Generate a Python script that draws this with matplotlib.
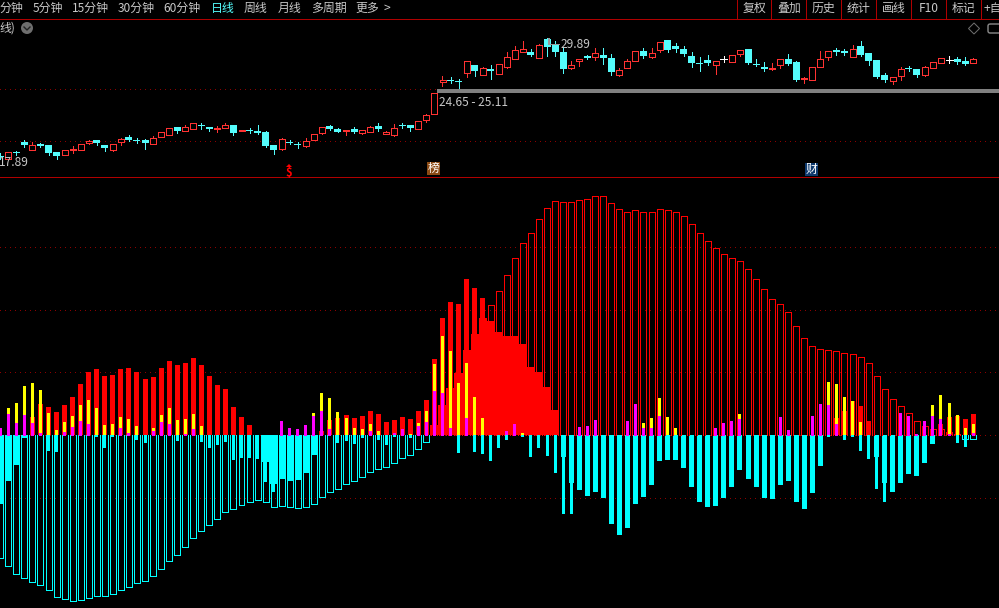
import matplotlib
matplotlib.use('Agg')
import numpy as np
import matplotlib.pyplot as plt
from matplotlib.patches import Circle, FancyBboxPatch, Polygon, Rectangle

plt.rcParams['font.family'] = ['Noto Sans CJK SC', 'DejaVu Sans']

RED = '#ff3232'
BAR_RED = '#ff0000'
CYAN = '#54fcfc'
BAR_CYAN = '#00ffff'
LINE_RED = '#b00000'
GRID_RED = '#8c0000'
TEXT = '#c8c8c8'

# candles, one row per ten days
opens = [18.1, 17.8, 18.5, 19.5, 18.7, 19.3, 19.2, 18.5, 18.2, 18.7,
         18.7, 19.4, 19.7, 19.2, 18.7, 19.5, 20.0, 19.7, 19.7, 19.3,
         20.0, 20.2, 21.0, 20.6, 20.8, 21.2, 21.0, 20.8, 20.9, 21.2,
         20.6, 20.7, 20.6, 20.5, 19.2, 18.8, 19.5, 19.3, 19.1, 19.7,
         20.4, 21.1, 20.8, 20.6, 20.8, 20.4, 20.5, 21.1, 20.3, 20.2,
         21.2, 21.2, 20.8, 21.7, 22.3, 25.5, 25.7, 25.6, 26.4, 27.2,
         26.2, 26.8, 26.3, 27.0, 27.8, 28.5, 28.5, 27.9, 29.8, 29.2,
         28.5, 26.9, 27.6, 28.1, 28.0, 28.2, 27.9, 26.2, 26.9, 27.6,
         28.6, 28.0, 28.7, 29.7, 29.1, 28.8, 28.1, 27.4, 27.7, 27.2,
         27.8, 27.5, 28.3, 28.8, 27.3, 27.0, 26.8, 27.2, 27.8, 27.5,
         25.8, 25.7, 27.0, 28.0, 28.7, 28.6, 28.0, 29.1, 28.4, 27.7,
         26.2, 25.6, 26.1, 26.9, 26.8, 26.2, 26.9, 27.4, 27.7, 27.8,
         27.6, 27.4]
highs = [18.4, 18.5, 18.6, 19.7, 19.5, 19.4, 19.2, 18.5, 18.7, 19.1,
         19.3, 19.7, 19.7, 19.2, 19.3, 19.9, 20.2, 19.9, 19.8, 20.1,
         20.5, 20.9, 21.0, 21.2, 21.4, 21.4, 21.0, 21.1, 21.4, 21.2,
         20.7, 20.9, 21.2, 20.6, 19.2, 19.9, 19.7, 19.5, 19.9, 20.3,
         21.0, 21.2, 20.9, 20.7, 21.0, 20.7, 21.1, 21.4, 20.6, 21.3,
         21.4, 21.2, 21.6, 22.3, 24.4, 26.1, 26.0, 25.8, 27.6, 27.2,
         27.0, 27.2, 27.3, 28.5, 29.1, 29.6, 28.8, 29.3, 29.9, 29.6,
         29.0, 27.6, 27.8, 28.2, 28.9, 28.9, 28.3, 26.9, 27.8, 28.6,
         28.9, 28.9, 29.5, 29.7, 29.4, 29.1, 28.5, 28.0, 28.2, 27.6,
         28.1, 28.2, 28.7, 28.8, 27.8, 27.5, 27.4, 27.8, 28.3, 27.6,
         26.0, 27.0, 28.6, 28.6, 28.9, 28.8, 29.2, 29.6, 28.4, 27.7,
         26.4, 26.0, 27.0, 27.1, 26.8, 27.1, 27.5, 27.9, 28.1, 28.0,
         28.0, 27.9]
lows = [17.8, 17.8, 18.2, 19.0, 18.7, 19.0, 18.2, 17.8, 18.2, 18.4,
        18.7, 19.3, 19.2, 18.6, 18.6, 19.2, 19.6, 19.4, 18.8, 19.3,
        20.0, 20.2, 20.4, 20.6, 20.8, 20.8, 20.6, 20.5, 20.9, 20.2,
        20.6, 20.4, 20.3, 19.0, 18.3, 18.7, 19.3, 18.9, 19.0, 19.7,
        20.3, 20.7, 20.5, 20.2, 20.4, 20.3, 20.5, 20.6, 20.3, 20.1,
        20.9, 20.6, 20.8, 21.5, 22.3, 25.1, 25.4, 24.9, 26.0, 26.1,
        26.2, 25.8, 26.3, 26.9, 27.8, 28.5, 28.1, 27.9, 28.1, 28.1,
        26.4, 26.8, 27.1, 27.8, 27.7, 27.3, 26.2, 26.1, 26.9, 27.6,
        27.9, 27.9, 28.5, 28.5, 28.5, 28.1, 27.0, 26.6, 27.2, 26.3,
        27.5, 27.5, 28.1, 27.3, 27.1, 26.6, 26.7, 26.9, 27.2, 25.6,
        25.4, 25.7, 27.0, 27.7, 28.2, 28.2, 28.0, 28.1, 27.2, 25.9,
        25.5, 25.3, 25.7, 26.6, 26.0, 26.1, 26.9, 27.4, 27.4, 27.3,
        27.2, 27.4]
closes = [18.0, 18.5, 18.4, 19.2, 19.2, 19.1, 18.4, 18.1, 18.7, 18.8,
          19.3, 19.6, 19.4, 18.9, 19.3, 19.8, 19.7, 19.6, 19.4, 19.9,
          20.5, 20.9, 20.6, 21.0, 21.4, 21.1, 20.8, 20.9, 21.2, 20.4,
          20.7, 20.6, 20.4, 19.1, 18.7, 19.8, 19.4, 19.2, 19.6, 20.3,
          21.0, 20.8, 20.5, 20.7, 20.5, 20.7, 21.0, 20.8, 20.5, 20.9,
          21.1, 20.9, 21.6, 22.2, 24.4, 25.7, 25.6, 25.5, 27.6, 26.6,
          26.9, 26.6, 27.3, 28.0, 28.7, 28.8, 28.2, 29.2, 29.0, 28.5,
          26.8, 27.2, 27.8, 27.9, 28.4, 27.9, 26.5, 26.7, 27.6, 28.6,
          28.1, 28.4, 29.5, 28.7, 28.8, 28.3, 27.4, 27.3, 27.4, 27.6,
          27.8, 28.2, 28.7, 27.4, 27.2, 26.8, 26.9, 27.8, 27.3, 25.7,
          25.9, 27.0, 27.8, 28.6, 28.5, 28.4, 28.8, 28.2, 27.6, 26.0,
          25.7, 26.0, 26.8, 26.8, 26.2, 27.0, 27.5, 27.9, 27.7, 27.5,
          27.3, 27.8]

# indicator heights
outline = [-123, -131, -139, -143, -147, -150, -155, -162, -164, -166,
           -165, -163, -161, -161, -159, -155, -152, -148, -146, -141,
           -134, -126, -120, -112, -103, -96, -90, -84, -77, -74,
           -70, -67, -65, -67, -72, -71, -72, -73, -72, -69,
           -62, -57, -54, -49, -46, -42, -37, -34, -32, -28,
           -23, -20, -14, -7, 10, 30, 47, 62, 85, 101,
           117, 130, 144, 160, 177, 192, 202, 216, 227, 234,
           233, 233, 235, 236, 239, 239, 232, 226, 223, 225,
           223, 223, 226, 225, 223, 219, 211, 202, 194, 187,
           181, 177, 174, 166, 156, 146, 136, 131, 123, 109,
           97, 89, 86, 85, 84, 82, 81, 78, 72, 59,
           46, 36, 29, 22, 14, 9, 6, 6, 3, 1,
           -4, -4]
fill = [-69, -46, -30, -3, 0, 0, 0, 0, 0, 0,
        0, 0, 0, 0, 0, 0, 0, 0, 0, 0,
        0, 0, 0, 0, 0, 0, 0, 0, 0, 0,
        0, 0, 0, -27, -49, -44, -46, -45, -38, -20,
        0, 0, 0, 0, 0, 0, 0, 0, 0, 0,
        0, 0, 0, 0, 10, 30, 47, 62, 85, 101,
        117, 114, 103, 99, 99, 91, 68, 63, 48, 25,
        0, 0, 0, 0, 0, 0, 0, 0, 0, 0,
        0, 0, 0, 0, 0, 0, 0, 0, 0, 0,
        0, 0, 0, 0, 0, 0, 0, 0, 0, 0,
        0, 0, 0, 0, 0, 0, 0, 0, 0, 0,
        0, 0, 0, 0, 0, 0, 0, 0, 0, 0,
        0, 0]
mid = [0, 0, 0, 0, 18, 31, 28, 23, 30, 38,
       51, 63, 66, 59, 60, 66, 67, 63, 56, 58,
       67, 74, 70, 72, 77, 70, 59, 50, 46, 28,
       18, 10, 0, 0, 0, 0, 0, 0, 0, 0,
       4, 15, 17, 20, 17, 19, 24, 21, 13, 15,
       18, 16, 24, 35, 76, 117, 133, 131, 156, 147,
       137, 0, 0, 0, 0, 0, 0, 0, 0, 0,
       -22, -48, -55, -61, -57, -63, -89, -100, -93, -69,
       -62, -50, -26, -25, -25, -33, -52, -67, -72, -71,
       -63, -52, -35, -44, -52, -63, -64, -50, -46, -67,
       -74, -58, -31, 0, 17, 24, 34, 29, 14, -22,
       -48, -57, -48, -39, -41, -28, -9, 11, 18, 19,
       16, 21]
yellow = [0, 27, 32, 49, 52, 45, 22, 5, 13, 19,
          30, 35, 27, 10, 11, 18, 16, 9, 0, 7,
          20, 27, 15, 16, 21, 9, 0, 0, 0, 0,
          0, 0, 0, 0, 0, 0, 0, 0, 0, 22,
          42, 37, 23, 17, 7, 6, 11, 4, 0, 0,
          0, 1, 12, 24, 71, 99, 84, 52, 72, 38,
          17, 0, 0, 0, 0, 2, 0, 0, 0, 0,
          0, 0, 0, 0, 0, 0, 0, 0, 0, 0,
          12, 17, 37, 18, 7, 0, 0, 0, 0, 0,
          0, 0, 21, 0, 0, 0, 0, 0, 0, 0,
          0, 0, 0, 53, 51, 38, 34, 13, 0, 0,
          0, 0, 0, 0, 0, 0, 30, 40, 32, 20,
          7, 11]
magenta = [7, 21, 12, 20, 12, 2, 0, 0, 3, 8,
           14, 11, 0, 0, 0, 7, 2, 0, 0, 4,
           13, 11, 0, 1, 6, 0, 0, 0, 0, 0,
           0, 0, 0, 0, 0, 14, 7, 6, 10, 19,
           24, 6, 0, 0, 0, 0, 4, 0, 0, 2,
           6, 0, 9, 13, 44, 42, 7, 0, 17, 0,
           0, 0, 0, 4, 11, 0, 0, 0, 0, 0,
           0, 0, 8, 9, 15, 0, 0, 0, 14, 31,
           7, 7, 19, 0, 0, 0, 0, 0, 0, 7,
           12, 14, 16, 0, 0, 0, 0, 18, 5, 0,
           0, 19, 31, 30, 11, 0, 0, 0, 0, 0,
           0, 0, 22, 19, 1, 14, 19, 16, 1, 0,
           0, 2]
thin_cyan = [0, 0, 0, 0, 0, 0, -16, -17, 0, 0,
             0, 0, -2, -13, -2, 0, 0, -5, -8, 0,
             0, 0, -6, 0, 0, -7, -13, -10, -7, -25,
             -23, -23, -24, -47, -57, 0, 0, 0, 0, 0,
             0, 0, -8, -6, -9, -3, 0, -5, -10, -2,
             0, -3, 0, 0, 0, 0, 0, -18, 0, -17,
             -19, -26, -13, -5, 0, -2, -22, -13, -21, -38,
             -79, -79, 0, 0, 0, 0, 0, 0, 0, 0,
             0, 0, 0, 0, 0, 0, 0, 0, 0, 0,
             0, 0, 0, 0, 0, 0, 0, 0, 0, 0,
             0, 0, 0, -2, 0, -5, -2, -16, -24, -54,
             -67, 0, 0, 0, 0, 0, 0, 0, 0, -8,
             -12, 0]

left_tabs = ['分钟', '5分钟', '15分钟', '30分钟', '60分钟', '日线', '周线', '月线', '多周期', '更多']
left_tab_x = [0, 33, 72, 118, 163, 211, 244, 278, 311, 355]
right_tabs = ['复权', '叠加', '历史', '统计', '画线', 'F10', '标记', '+自']
right_tab_x = [743, 777, 812, 847, 882, 919, 952, 984]
separators = [737, 771, 806, 841, 876, 911, 946, 981]
price_grid = [24.8, 19.65]
grid_levels = [188.1, 125.4, 62.7, 0, -62.7]
gap_low, gap_high = 24.65, 25.11

W, H = 999, 608
PX = 1 / 8.04  # one pixel in day units
xs = np.arange(len(opens))
x_lim = (-0.3 * PX, (W - 0.3) * PX)
DOTS = (0, (0.6, 4.95))

fig = plt.figure(figsize=(W / 100, H / 100), dpi=100, facecolor='black')


def pane(top, bottom):
    ax = fig.add_axes([0, 1 - bottom / H, 1, (bottom - top) / H])
    ax.set_facecolor('black')
    ax.set_xlim(*x_lim)
    ax.axis('off')
    return ax


# candle pane
ax1 = pane(19, 177)
ax1.set_ylim(16.0, 31.8)
for y in price_grid:
    ax1.axhline(y, color=GRID_RED, lw=0.72, ls=DOTS, antialiased=False, zorder=0)
ax1.axhspan(gap_low - 0.2, gap_high - 0.35, xmin=437 / W, color='#808080', lw=0, zorder=1)

for i in xs:
    o, h, l, c = opens[i], highs[i], lows[i], closes[i]
    if c > o:
        col = RED
    elif c < o:
        col = CYAN
    else:
        col = 'white'
    ax1.vlines(i, l, h, color=col, lw=0.72, antialiased=False, zorder=2)
    if c > o:
        ax1.bar(i, c - o, bottom=o, width=6 * PX, facecolor='black', edgecolor=col,
                lw=0.72, antialiased=False, zorder=3)
    elif c < o:
        ax1.bar(i, o - c, bottom=c, width=7 * PX, color=col, lw=0, antialiased=False, zorder=3)
    else:
        ax1.hlines(o, i - 3.5 * PX, i + 3.5 * PX, color=col, lw=0.72, antialiased=False, zorder=3)

# indicator pane, value 0 sits on y=435
ax2 = pane(177, 608)
ax2.set_ylim(435 - 608, 435 - 177)
for y in grid_levels:
    ax2.axhline(y, color=GRID_RED, lw=0.72, ls=DOTS, antialiased=False, zorder=0)

fill_arr = np.array(fill)
mid_arr = np.array(mid)
# solid red runs together, cyan keeps a gap between days
red_fill = np.where(fill_arr > 0, fill_arr, 0)
cyan_fill = np.where(fill_arr < 0, fill_arr, 0)
mid_cols = [BAR_RED if v > 0 else BAR_CYAN for v in mid_arr]
ax2.bar(xs, red_fill, width=8.2 * PX, color=BAR_RED, lw=0, antialiased=False, zorder=1)
ax2.bar(xs, cyan_fill, width=6.4 * PX, color=BAR_CYAN, lw=0, antialiased=False, zorder=1)
ax2.bar(xs, mid_arr, width=5 * PX, color=mid_cols, lw=0, antialiased=False, zorder=2)

for i, v in enumerate(outline):
    col = BAR_RED if v > 0 else BAR_CYAN
    a, b = i - 3 * PX, i + 3 * PX
    ax2.plot([a, a, b, b], [0, v, v, 0], color=col, lw=0.72, antialiased=False,
             solid_joinstyle='miter', zorder=3)

ax2.bar(xs, yellow, width=3 * PX, color='#ffff00', lw=0, antialiased=False, zorder=4)
ax2.bar(xs, np.array(magenta) + 1, bottom=-1, width=3 * PX,
        color=['#ff00ff' if m > 0 else 'none' for m in magenta],
        lw=0, antialiased=False, zorder=5)
ax2.bar(xs, thin_cyan, width=3 * PX, color=BAR_CYAN, lw=0, antialiased=False, zorder=5)

# window furniture in pixel coordinates
ui = fig.add_axes([0, 0, 1, 1])
ui.set_xlim(0, W)
ui.set_ylim(H, 0)
ui.axis('off')
ui.patch.set_alpha(0)

ui.plot([0, W], [18.5, 18.5], color=LINE_RED, lw=0.72, antialiased=False)
ui.plot([0, W], [176.5, 176.5], color=LINE_RED, lw=0.72, antialiased=False)
for x in separators:
    ui.plot([x, x], [0, 18], color=LINE_RED, lw=0.72, antialiased=False)

for label, x in zip(left_tabs + right_tabs, left_tab_x + right_tab_x):
    col = '#54fcfc' if label == '日线' else TEXT
    ui.text(x, 8.5, label, color=col, fontsize=8.6, ha='left', va='center')
ui.text(383, 8.5, '>', color=TEXT, fontsize=8.6, ha='left', va='center')
ui.text(-1, 28, '线)', color=TEXT, fontsize=8.6, ha='left', va='center')

ui.add_patch(Circle((27, 28), 6, color='#6e6e6e', lw=0))
ui.plot([24, 27, 30], [27, 30, 27], color='#222222', lw=1)
ui.add_patch(Polygon([(974, 23), (979.5, 28.5), (974, 34), (968.5, 28.5)], fill=False,
                     edgecolor='#6e6e6e', lw=0.72))
ui.add_patch(FancyBboxPatch((988, 24), 14, 9, boxstyle='round,pad=0,rounding_size=2',
                            fill=False, edgecolor='#8a8a8a', lw=1))

ui.text(-1, 163, '17.89', color=TEXT, fontsize=8.6, ha='left', va='center')
ui.plot([550, 559], [44, 44], color='#9a9a9a', lw=0.72, antialiased=False)
ui.plot([549, 549], [39, 44], color='#9a9a9a', lw=1.4, antialiased=False)
ui.text(561, 44.5, '29.89', color=TEXT, fontsize=8.6, ha='left', va='center')
ui.text(439, 103, f'{gap_low} - {gap_high}', color=TEXT, fontsize=8.6, ha='left', va='center')

ui.text(289, 172, '$', color='#ff0000', fontsize=8, fontweight='bold', ha='center', va='center')
ui.add_patch(Polygon([(289, 164), (292, 167), (286, 167)], color='#ff0000', lw=0))
ui.add_patch(Rectangle((427, 162), 13, 13, color='#8b4a14', lw=0))
ui.text(433.5, 168.5, '榜', color='white', fontsize=8.6, ha='center', va='center')
ui.add_patch(Rectangle((805, 163), 13, 12.5, color='#0e3a6e', lw=0))
ui.text(811.5, 169, '财', color='white', fontsize=8.6, ha='center', va='center')

fig.savefig('out.png', dpi=100, facecolor='black')
